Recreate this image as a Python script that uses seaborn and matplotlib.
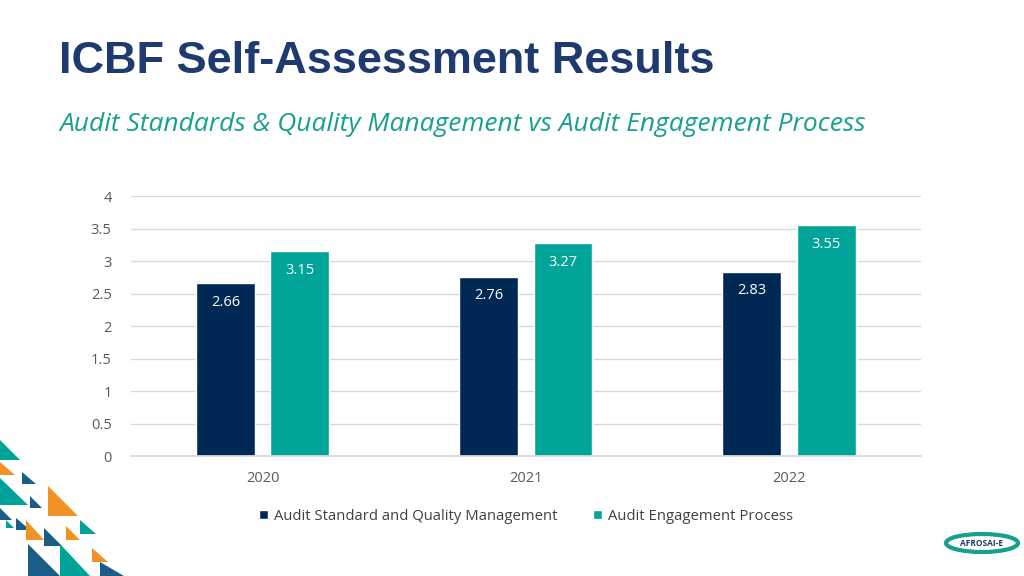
import matplotlib
matplotlib.use("Agg")
import matplotlib.pyplot as plt
from matplotlib.patches import Polygon, Ellipse
import pandas as pd
import seaborn as sns

years = ["2020", "2021", "2022"]
series_names = ["Audit Standard and Quality Management", "Audit Engagement Process"]
standard_quality = [2.66, 2.76, 2.83]
engagement_process = [3.15, 3.27, 3.55]
colors = ["#002855", "#00a499"]

df = pd.DataFrame({
    "Year": years * 2,
    "Series": [series_names[0]] * 3 + [series_names[1]] * 3,
    "Score": standard_quality + engagement_process,
})

sns.set_theme(style="white")
plt.rcParams["font.family"] = ["Open Sans", "DejaVu Sans"]

fig = plt.figure(figsize=(10.24, 5.76), dpi=100)
ax = fig.add_axes([0.128, 0.2083, 0.771, 0.4514])

sns.barplot(data=df, x="Year", y="Score", hue="Series", palette=colors,
            saturation=1, width=0.566, gap=0.21, ax=ax, legend=True)

for cont in ax.containers:
    ax.bar_label(cont, fmt="%.2f", padding=-19, color="white", fontsize=10.5)

ax.set_ylim(0, 4)
ax.set_yticks([0, 0.5, 1, 1.5, 2, 2.5, 3, 3.5, 4])
ax.set_yticklabels(["0", "0.5", "1", "1.5", "2", "2.5", "3", "3.5", "4"])
ax.yaxis.grid(True, color="#d9d9d9", linewidth=1)
ax.set_axisbelow(True)
ax.set_xlabel("")
ax.set_ylabel("")
ax.tick_params(axis="y", length=0, pad=14, labelsize=10.5, labelcolor="#595959")
ax.tick_params(axis="x", length=0, pad=11, labelsize=10.5, labelcolor="#595959")
for side in ["top", "right", "left"]:
    ax.spines[side].set_visible(False)
ax.spines["bottom"].set_color("#d9d9d9")

ax.legend(loc="center", bbox_to_anchor=(0.5, -0.232), ncol=2, frameon=False,
          fontsize=10.7, labelcolor="#404040", handlelength=0.6, handleheight=0.6,
          handletextpad=0.4, columnspacing=2.4)

fig.text(0.058, 0.873, "ICBF Self-Assessment Results", fontsize=32.5, fontweight="bold",
         color="#1f3a6e", family=["Liberation Sans", "DejaVu Sans"])
fig.text(0.058, 0.772, "Audit Standards & Quality Management vs Audit Engagement Process",
         fontsize=19, style="italic", color="#17a08c")

# decorative triangles, bottom left
tri = [
    ([(0, 440), (20, 460), (0, 460)], "#00a397"),
    ([(0, 462), (15, 475), (0, 475)], "#f39224"),
    ([(22, 472), (36, 484), (22, 484)], "#1a5e87"),
    ([(0, 478), (28, 505), (0, 505)], "#00a397"),
    ([(48, 486), (78, 516), (48, 516)], "#f39224"),
    ([(30, 496), (42, 508), (30, 508)], "#1a5e87"),
    ([(0, 508), (12, 520), (0, 520)], "#1a5e87"),
    ([(16, 518), (30, 530), (16, 530)], "#1a5e87"),
    ([(26, 520), (44, 540), (26, 540)], "#f39224"),
    ([(44, 528), (62, 546), (44, 546)], "#1a5e87"),
    ([(66, 526), (80, 540), (66, 540)], "#f39224"),
    ([(28, 544), (60, 576), (28, 576)], "#1a5e87"),
    ([(60, 544), (90, 576), (60, 576)], "#00a397"),
    ([(92, 548), (108, 562), (92, 562)], "#f39224"),
    ([(100, 562), (124, 576), (100, 576)], "#1a5e87"),
    ([(6, 520), (14, 528), (6, 528)], "#00a397"),
    ([(80, 520), (96, 534), (80, 534)], "#00a397"),
]
for pts, col in tri:
    poly = [(x / 1024, 1 - y / 576) for x, y in pts]
    fig.patches.append(Polygon(poly, closed=True, transform=fig.transFigure,
                               facecolor=col, edgecolor="none"))

# logo
fig.patches.append(Ellipse((982 / 1024, 1 - 543 / 576), 72 / 1024, 18 / 576,
                           transform=fig.transFigure, facecolor="none",
                           edgecolor="#17a08c", linewidth=3))
fig.text(982 / 1024, 1 - 543 / 576, "AFROSAI-E", fontsize=6, fontweight="bold",
         color="#1f3a6e", ha="center", va="center")

fig.savefig("out.png", dpi=100)
